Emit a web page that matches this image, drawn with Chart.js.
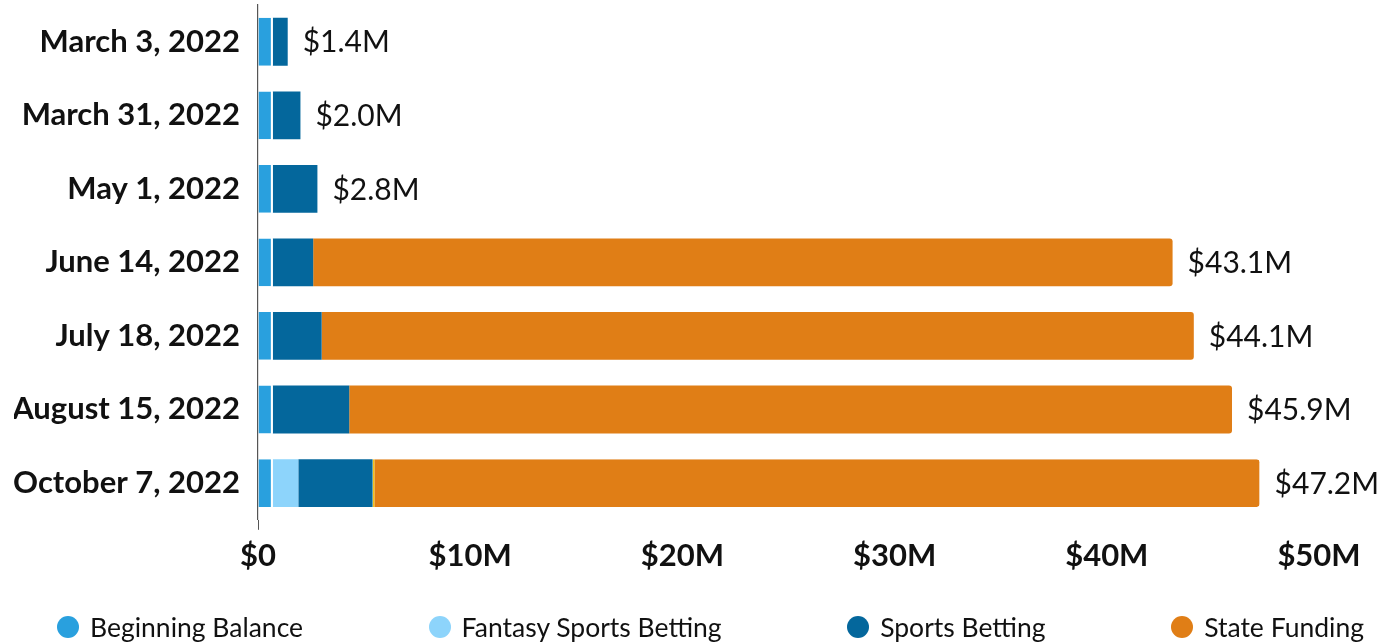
<!DOCTYPE html>
<html>
<head>
<meta charset="utf-8">
<script src="https://cdn.jsdelivr.net/npm/chart.js@4/dist/chart.umd.min.js"></script>
<style>
  html, body { margin: 0; padding: 0; background: #fff; }
  #wrap { position: relative; width: 1377px; height: 643px; }
  #legend {
    position: absolute; left: 0; right: 0; top: 611px;
    display: flex; justify-content: space-between;
    padding: 0 13px 0 57px;
    font-family: Lato, sans-serif; font-size: 26.5px; color: #111;
  }
  #legend .item { display: flex; align-items: center; white-space: nowrap; }
  #legend .dot { width: 22px; height: 22px; border-radius: 50%; margin-right: 11px; }
</style>
</head>
<body>
<div id="wrap">
  <canvas id="myChart" width="1377" height="643"></canvas>
  <div id="legend"></div>
</div>
<script>
// fund dates and sources, $ millions
const dates = ['March 3, 2022', 'March 31, 2022', 'May 1, 2022', 'June 14, 2022',
               'July 18, 2022', 'August 15, 2022', 'October 7, 2022'];
const beginningBalance = [0.7, 0.7, 0.7, 0.7, 0.7, 0.7, 0.7];
const fantasySports    = [0, 0, 0, 0, 0, 0, 1.2];
const sportsBetting    = [0.7, 1.3, 2.1, 1.9, 2.3, 3.6, 3.5];
const stateFunding     = [0, 0, 0, 40.5, 41.1, 41.6, 41.8];
const xTicks = [0, 10, 20, 30, 40, 50];

const colors = {
    balance: '#29a0de',
    fantasy: '#8dd4fb',
    sports: '#04679c',
    state: '#e07e16'
};

function money(v) {
    return v === 0 ? '$0' : '$' + v + 'M';
}

// totals printed at the end of each bar
const totalLabels = {
    id: 'totalLabels',
    afterDatasetsDraw(chart) {
        const ctx = chart.ctx;
        const x = chart.scales.x;
        const y = chart.scales.y;
        ctx.save();
        ctx.font = '30px Lato';
        ctx.fillStyle = '#111';
        ctx.textBaseline = 'middle';
        ctx.textAlign = 'left';
        dates.forEach((d, i) => {
            const total = beginningBalance[i] + fantasySports[i] + sportsBetting[i] + stateFunding[i];
            ctx.fillText('$' + total.toFixed(1) + 'M', x.getPixelForValue(total) + 15, y.getPixelForValue(i) + 1);
        });
        ctx.restore();
    }
};

const data = {
    labels: dates,
    datasets: [{
        label: 'Beginning Balance',
        data: beginningBalance,
        backgroundColor: colors.balance,
        borderColor: '#fff',
        borderWidth: {top: 0, right: 2, bottom: 0, left: 0},
        borderSkipped: false
    }, {
        label: 'Fantasy Sports Betting',
        data: fantasySports,
        backgroundColor: colors.fantasy,
        borderWidth: 0
    }, {
        label: 'Sports Betting',
        data: sportsBetting,
        backgroundColor: colors.sports,
        borderWidth: 0
    }, {
        label: 'State Funding',
        data: stateFunding,
        backgroundColor: colors.state,
        borderColor: '#f3c21a',
        borderWidth: (c) => c.dataIndex === 6 ? {top: 0, right: 0, bottom: 0, left: 2} : 0,
        borderSkipped: false,
        borderRadius: {topLeft: 0, bottomLeft: 0, topRight: 3, bottomRight: 3}
    }]
};

const config = {
    type: 'bar',
    data: data,
    options: {
        indexAxis: 'y',
        responsive: false,
        animation: false,
        layout: { padding: {top: 5, left: 14, right: 58, bottom: 60} },
        datasets: { bar: { categoryPercentage: 1, barPercentage: 0.65 } },
        plugins: { legend: { display: false }, tooltip: { enabled: false } },
        scales: {
            x: {
                stacked: true,
                min: 0,
                max: 50,
                afterBuildTicks: (axis) => { axis.ticks = xTicks.map(v => ({value: v})); },
                border: { display: false },
                grid: {
                    drawOnChartArea: false,
                    drawTicks: true,
                    tickLength: 10,
                    color: (c) => c.tick && c.tick.value === 0 ? '#555' : 'rgba(0,0,0,0)'
                },
                ticks: {
                    padding: 8,
                    color: '#111',
                    font: { family: 'Lato', weight: 'bold', size: 31 },
                    callback: (v) => money(v)
                }
            },
            y: {
                stacked: true,
                border: { display: true, color: '#555', width: 1.2 },
                grid: { display: false, drawTicks: false },
                // labels sit beside the bars, no extra room above/below
                afterFit: (s) => { s.paddingTop = 0; s.paddingBottom = 0; s.width = 244; },
                ticks: {
                    padding: 18,
                    color: '#111',
                    font: { family: 'Lato', weight: 'bold', size: 31 }
                }
            }
        }
    },
    plugins: [totalLabels]
};

const myChart = new Chart(document.getElementById('myChart'), config);

// legend spread across the bottom
const legend = document.getElementById('legend');
data.datasets.forEach(ds => {
    const item = document.createElement('div');
    item.className = 'item';
    const dot = document.createElement('span');
    dot.className = 'dot';
    dot.style.background = ds.backgroundColor;
    const txt = document.createElement('span');
    txt.textContent = ds.label;
    item.appendChild(dot);
    item.appendChild(txt);
    legend.appendChild(item);
});
</script>
</body>
</html>
